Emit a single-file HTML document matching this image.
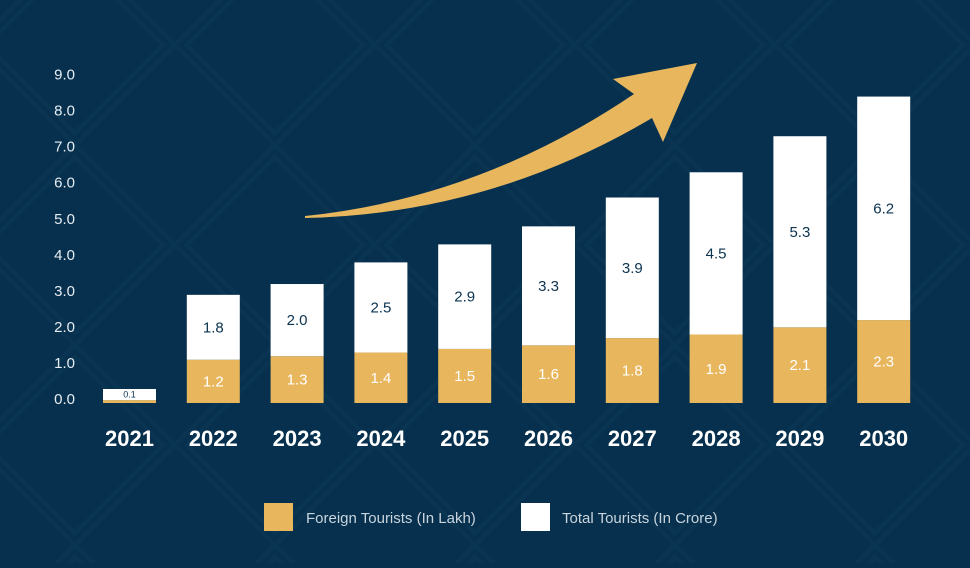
<!DOCTYPE html>
<html><head><meta charset="utf-8"><style>
html,body{margin:0;padding:0;}
body{width:970px;height:563px;background:#06304d;overflow:hidden;font-family:"Liberation Sans",sans-serif;}
</style></head><body>
<svg id="chart" width="970" height="563" xmlns="http://www.w3.org/2000/svg">
<defs>
<pattern id="diam" width="200" height="200" patternUnits="userSpaceOnUse" x="-25" y="-55">
<path d="M0 100 L100 0 L200 100 L100 200 Z M12 100 L100 12 L188 100 L100 188 Z" fill="none" stroke="#0a3552" stroke-width="4"/>
</pattern>
</defs>
<rect width="970" height="563" fill="#06304d"/>
<rect width="970" height="563" fill="url(#diam)"/>
<g id="yaxis"></g>
<g id="bars"></g>
<path fill="#e8b65c" d="M305 216 Q480 198 634 94 L613 79 L697 63 L663 142 L652 118 Q490 214 305 218 Z"/>
<g>
<rect x="264" y="503" width="29" height="28" fill="#e8b65c"/>
<text x="306" y="523" fill="#c9d4dd" font-size="15">Foreign Tourists (In Lakh)</text>
<rect x="521" y="503" width="29" height="28" fill="#ffffff"/>
<text x="562" y="523" fill="#c9d4dd" font-size="15">Total Tourists (In Crore)</text>
</g>
</svg>
<script>
const years = ["2021","2022","2023","2024","2025","2026","2027","2028","2029","2030"];
const foreign = [0.08,1.2,1.3,1.4,1.5,1.6,1.8,1.9,2.1,2.3];
const total = [0.1,1.8,2.0,2.5,2.9,3.3,3.9,4.5,5.3,6.2];
const yTicks = [0,1,2,3,4,5,6,7,8,9];
const NS="http://www.w3.org/2000/svg";
const base=403, unit=36.05, x0=103, step=83.8, bw=53;
function y(v){return base - v*unit;}
function bx(i){return x0 + i*step;}
function mk(tag,attrs,parent){const e=document.createElementNS(NS,tag);for(const k in attrs)e.setAttribute(k,attrs[k]);parent.appendChild(e);return e;}
const ya=document.getElementById('yaxis');
yTicks.forEach(t=>{
  const tx=mk('text',{x:75,y:y(t)+1,'text-anchor':'end',fill:'#e6edf2','font-size':15},ya);
  
  
  tx.textContent=t.toFixed(1);
});
const g=document.getElementById('bars');
years.forEach((yr,i)=>{
  const x=bx(i);
  const minH=14;
  let fH=foreign[i]*unit, tH=total[i]*unit;
  if(fH+tH<minH){tH=minH-fH;}
  const fr=mk('rect',{x:x,y:base-fH,width:bw,height:fH,fill:'#e8b65c'},g);
  
  
  const tr=mk('rect',{x:x,y:base-fH-tH,width:bw,height:tH,fill:'#ffffff'},g);
  
  
  const small=fH+tH<20;
  const tl=mk('text',{x:x+bw/2,y:small?base-fH-tH/2+3:base-fH-tH/2+5,'text-anchor':'middle',fill:'#0b3350','font-size':small?9:15},g);
  
  
  tl.textContent=total[i].toFixed(1);
  if(!small){
    const fl=mk('text',{x:x+bw/2,y:base-fH/2+5,'text-anchor':'middle',fill:'#ffffff','font-size':15},g);
    
    
    fl.textContent=foreign[i].toFixed(1);
  }
  const yl=mk('text',{x:x+bw/2,y:446,'text-anchor':'middle',fill:'#ffffff','font-size':22,'font-weight':'bold'},g);
  
  
  yl.textContent=yr;
});
</script>
</body></html>
